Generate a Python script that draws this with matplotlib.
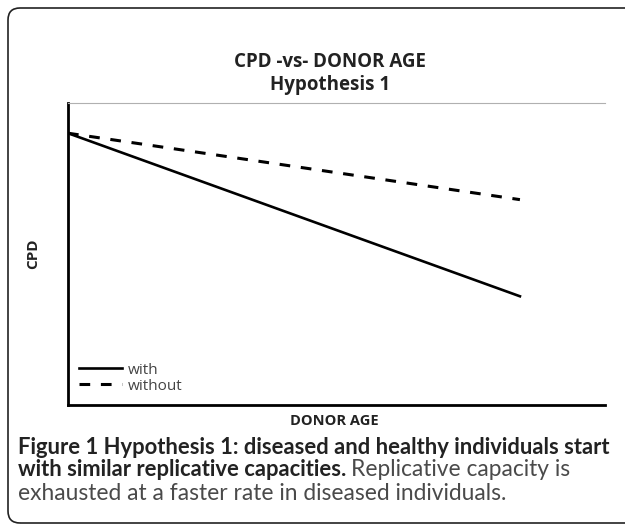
import matplotlib
matplotlib.use("Agg")
import matplotlib.pyplot as plt
from matplotlib.patches import FancyBboxPatch
from matplotlib.transforms import IdentityTransform

donor_age = [0, 85]
cpd_with = [90, 36]
cpd_without = [90, 68]
series_labels = ["with", "without"]

W, H = 625, 528
fig = plt.figure(figsize=(W / 100, H / 100), dpi=100)

# rounded frame (right side runs off the image), pixel coordinates
frame = FancyBboxPatch((8, 5), 700, 515,
                       boxstyle="round,pad=0,rounding_size=12",
                       transform=IdentityTransform(), fill=False,
                       edgecolor="#222222", linewidth=1.2, clip_on=False)
fig.patches.append(frame)

ax = fig.add_axes([68 / W, 1 - 405 / H, 537 / W, 302 / H])
ax.plot(donor_age, cpd_with, color="black", lw=1.9, label=series_labels[0])
ax.plot(donor_age, cpd_without, color="black", lw=2.2, ls=(0, (3.5, 3.5)),
        label=series_labels[1])
ax.set_xlim(0, 101)
ax.set_ylim(0, 100)
ax.set_xticks([])
ax.set_yticks([])
ax.spines["right"].set_visible(False)
ax.spines["top"].set_color("#b0b0b0")
ax.spines["top"].set_linewidth(0.8)
ax.spines["left"].set_linewidth(2)
ax.spines["bottom"].set_linewidth(2)

leg = ax.legend(loc="lower left", frameon=False, handlelength=2.8,
                handletextpad=0.35, labelspacing=0.05, borderaxespad=0.35,
                prop={"family": "Open Sans", "size": 11})
for t in leg.get_texts():
    t.set_color("#444444")

fig.text(330 / W, 1 - 62 / H, "CPD -vs- DONOR AGE", ha="center", va="center",
         fontsize=13.5, fontweight="bold", family="Open Sans", color="#222222")
fig.text(330 / W, 1 - 85 / H, "Hypothesis 1", ha="center", va="center",
         fontsize=13.5, fontweight="bold", family="Open Sans", color="#222222")
fig.text(33 / W, 1 - 254 / H, "CPD", ha="center", va="center", rotation=90,
         fontsize=11, fontweight="bold", family="Open Sans", color="#222222")
fig.text(334 / W, 1 - 421 / H, "DONOR AGE", ha="center", va="center",
         fontsize=10.5, fontweight="bold", family="Open Sans", color="#222222")

FS = 15.8
FR = 16.4
fig.text(18 / W, 1 - 447 / H,
         "Figure 1 Hypothesis 1: diseased and healthy individuals start",
         ha="left", va="center", family="Lato", fontsize=FS,
         fontweight="bold", color="#222222")
t1 = fig.text(18 / W, 1 - 470 / H, "with similar replicative capacities.",
              ha="left", va="center", family="Lato", fontsize=FS,
              fontweight="bold", color="#222222")
fig.canvas.draw()
bb = t1.get_window_extent()
fig.text((bb.x1 + 5) / W, 1 - 470 / H, "Replicative capacity is",
         ha="left", va="center", family="Lato", fontsize=FR,
         fontweight="normal", color="#4a4a4a")
fig.text(18 / W, 1 - 493 / H,
         "exhausted at a faster rate in diseased individuals.",
         ha="left", va="center", family="Lato", fontsize=FR,
         fontweight="normal", color="#4a4a4a")

fig.savefig("out.png", dpi=100)
